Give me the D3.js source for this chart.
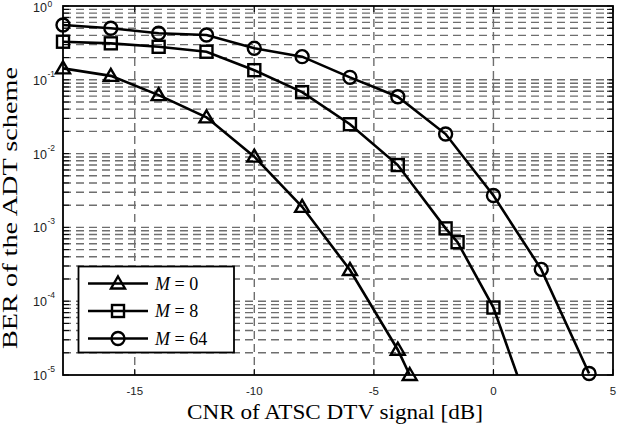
<!DOCTYPE html>
<html><head><meta charset="utf-8">
<script src="https://cdn.jsdelivr.net/npm/d3@7"></script>
<style>body{margin:0;background:#fff}svg{display:block}</style>
</head><body>
<svg id="c" width="625" height="429"></svg>
<script>
const cnrM0  = [-18,-16,-14,-12,-10,-8,-6,-4,-3.5];
const berM0  = [0.143,0.113,0.062,0.031,0.0091,0.0019,2.65e-4,2.2e-5,1.0e-5];
const cnrM8  = [-18,-16,-14,-12,-10,-8,-6,-4,-2,-1.5,0,2];
const berM8  = [0.328,0.312,0.28,0.24,0.135,0.068,0.025,0.0070,9.7e-4,6.3e-4,8.2e-5,1.2e-6];
const cnrM64 = [-18,-16,-14,-12,-10,-8,-6,-4,-2,0,2,4];
const berM64 = [0.553,0.50,0.427,0.405,0.267,0.206,0.108,0.059,0.0184,0.0027,2.7e-4,1.05e-5];
const seriesNames = ["M = 0","M = 8","M = 64"];
const xTicks = [-15,-10,-5,0,5];
const yDecades = [0,-1,-2,-3,-4,-5];

const L=63,R=613,T=6,B=375;
const svg=d3.select("#c");
const x=d3.scaleLinear().domain([-18,5]).range([L,R]);
const y=d3.scaleLog().domain([1e-5,1]).range([B,T]);

// grid
const minor=[];
for(let e=-5;e<0;e++){for(let m=1;m<=9;m++){minor.push(m*Math.pow(10,e));}}
minor.push(1);
const g=svg.append("g");
g.selectAll("line.hg").data(minor.filter(v=>v>1e-5&&v<1)).enter().append("line")
 .attr("x1",L).attr("x2",R).attr("y1",d=>y(d)).attr("y2",d=>y(d))
 .attr("stroke","#6e6e6e").attr("stroke-width",1.4).attr("stroke-dasharray","8,5");
g.selectAll("line.vg").data(xTicks.filter(v=>v<5)).enter().append("line")
 .attr("x1",d=>x(d)).attr("x2",d=>x(d)).attr("y1",T).attr("y2",B)
 .attr("stroke","#6e6e6e").attr("stroke-width",1.4).attr("stroke-dasharray","8,5");

// ticks
const tk=svg.append("g").attr("stroke","#000").attr("stroke-width",1);
minor.forEach(v=>{
  tk.append("line").attr("x1",L).attr("x2",L+6).attr("y1",y(v)).attr("y2",y(v));
  tk.append("line").attr("x1",R).attr("x2",R-6).attr("y1",y(v)).attr("y2",y(v));
});
xTicks.forEach(v=>{
  tk.append("line").attr("x1",x(v)).attr("x2",x(v)).attr("y1",B).attr("y2",B-6);
  tk.append("line").attr("x1",x(v)).attr("x2",x(v)).attr("y1",T).attr("y2",T+6);
});

// data
svg.append("clipPath").attr("id","pc").append("rect").attr("x",L).attr("y",T).attr("width",R-L).attr("height",B-T);
const series=[
 {x:cnrM0,y:berM0,m:"tri"},
 {x:cnrM8,y:berM8,m:"sq"},
 {x:cnrM64,y:berM64,m:"ci"}];
const line=d3.line().x(d=>x(d[0])).y(d=>y(d[1]));
function marker(sel,type,cx,cy){
  if(type==="tri") sel.append("path").attr("d",`M${cx},${cy-7}L${cx+7},${cy+5}L${cx-7},${cy+5}Z`);
  else if(type==="sq") sel.append("rect").attr("x",cx-6).attr("y",cy-6).attr("width",12).attr("height",12);
  else sel.append("circle").attr("cx",cx).attr("cy",cy).attr("r",6.5);
}
series.forEach(s=>{
  const pts=s.x.map((v,i)=>[v,s.y[i]]);
  svg.append("path").datum(pts).attr("d",line).attr("clip-path","url(#pc)")
   .attr("fill","none").attr("stroke","#000").attr("stroke-width",2.6);
  const mg=svg.append("g").attr("fill","none").attr("stroke","#000").attr("stroke-width",2.4);
  pts.filter(p=>p[1]>=9.9e-6).forEach(p=>marker(mg,s.m,x(p[0]),y(p[1])));
});

// box
svg.append("rect").attr("x",L).attr("y",T).attr("width",R-L).attr("height",B-T)
 .attr("fill","none").attr("stroke","#000").attr("stroke-width",1.8);

// tick labels
const tl=svg.append("g").attr("font-family","Liberation Sans, Arial, sans-serif").attr("fill","#222");
xTicks.forEach(v=>{
  tl.append("text").attr("x",x(v)).attr("y",395).attr("text-anchor","middle").attr("font-size",11.5).text(v);
});
yDecades.forEach(e=>{
  const yy=y(Math.pow(10,e));
  tl.append("text").attr("x",47).attr("y",Math.max(yy+5,12)).attr("text-anchor","end").attr("font-size",12.5).text("10");
  tl.append("text").attr("x",47.5).attr("y",Math.max(yy-3,7)).attr("font-size",8.5).text(String(e));
});

// axis labels
svg.append("text").attr("x",335).attr("y",419).attr("text-anchor","middle")
 .attr("font-family","Liberation Serif, Times New Roman, serif").attr("font-size",21)
 .attr("textLength",296).attr("lengthAdjust","spacingAndGlyphs")
 .text("CNR of ATSC DTV signal [dB]");
svg.append("text").attr("transform","translate(17,208) rotate(-90)").attr("text-anchor","middle")
 .attr("font-family","Liberation Serif, Times New Roman, serif").attr("font-size",20)
 .attr("textLength",282).attr("lengthAdjust","spacingAndGlyphs")
 .text("BER of the ADT scheme");

// legend
const lg=svg.append("g");
lg.append("rect").attr("x",78.5).attr("y",266.5).attr("width",155.5).attr("height",86)
 .attr("fill","#fff").attr("stroke","#000").attr("stroke-width",1.8);
const ly=[283.5,311,338.5];
series.forEach((s,i)=>{
  lg.append("line").attr("x1",88).attr("x2",148).attr("y1",ly[i]).attr("y2",ly[i]).attr("stroke","#000").attr("stroke-width",2.6);
  const mg=lg.append("g").attr("fill","none").attr("stroke","#000").attr("stroke-width",2.4);
  marker(mg,s.m,118,ly[i]);
  const parts=seriesNames[i].split(" ");
  const t=lg.append("text").attr("x",155).attr("y",ly[i]+6)
   .attr("font-family","Liberation Serif, Times New Roman, serif").attr("font-size",18);
  t.append("tspan").attr("font-style","italic").text(parts[0]);
  t.append("tspan").text(" "+parts.slice(1).join(" "));
});
</script>
</body></html>
